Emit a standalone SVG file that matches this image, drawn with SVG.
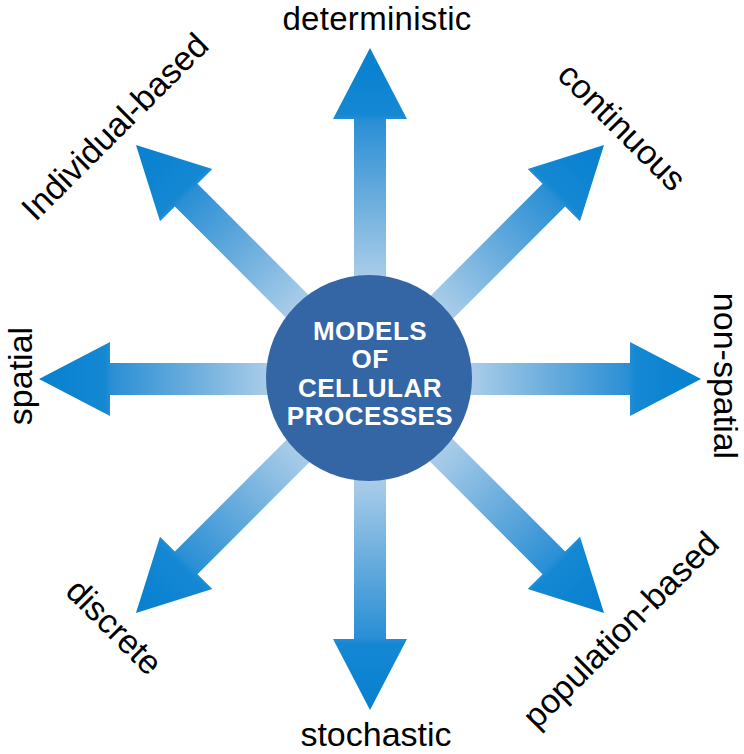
<svg xmlns="http://www.w3.org/2000/svg" xmlns:xlink="http://www.w3.org/1999/xlink" width="744" height="754" viewBox="0 0 744 754">
<style>
.lbl{font-family:"Liberation Sans",Arial,sans-serif;font-size:34px;fill:#000;text-anchor:middle}
.ctr{font-family:"Liberation Sans",Arial,sans-serif;font-size:26px;font-weight:bold;fill:#fff;text-anchor:middle;letter-spacing:0.5px}
</style>
<defs>
<linearGradient id="g" gradientUnits="userSpaceOnUse" x1="0" y1="0" x2="0" y2="-331">
<stop offset="0" stop-color="#c8dff0"/>
<stop offset="0.32" stop-color="#a6cbe8"/>
<stop offset="0.55" stop-color="#68acdd"/>
<stop offset="0.78" stop-color="#2a8fd5"/>
<stop offset="0.8" stop-color="#1588d3"/>
<stop offset="1" stop-color="#0680cf"/>
</linearGradient>
<path id="arr" d="M-16,0 L-16,-260 L-37,-260 L0,-331 L37,-260 L16,-260 L16,0 Z" fill="url(#g)"/>
</defs>
<g id="connectors" transform="translate(370,379)">
<use xlink:href="#arr" href="#arr" transform="rotate(0)"/>
<use xlink:href="#arr" href="#arr" transform="rotate(45)"/>
<use xlink:href="#arr" href="#arr" transform="rotate(90)"/>
<use xlink:href="#arr" href="#arr" transform="rotate(135)"/>
<use xlink:href="#arr" href="#arr" transform="rotate(180)"/>
<use xlink:href="#arr" href="#arr" transform="rotate(225)"/>
<use xlink:href="#arr" href="#arr" transform="rotate(270)"/>
<use xlink:href="#arr" href="#arr" transform="rotate(315)"/>
</g>
<g id="center">
<circle cx="369" cy="378" r="103" fill="#3465a4"/>
<text class="ctr" x="370" y="340">MODELS</text>
<text class="ctr" x="370" y="368">OF</text>
<text class="ctr" x="370" y="397">CELLULAR</text>
<text class="ctr" x="370" y="425">PROCESSES</text>
</g>
<g id="deterministic"><text class="lbl" x="377" y="30" style="font-size:33px;letter-spacing:0.3px">deterministic</text></g>
<g id="stochastic"><text class="lbl" x="376" y="746">stochastic</text></g>
<g id="spatial"><text class="lbl" transform="translate(32,376) rotate(-90)">spatial</text></g>
<g id="non-spatial"><text class="lbl" transform="translate(714,376) rotate(90)">non-spatial</text></g>
<g id="individual-based"><text class="lbl" transform="translate(123,135) rotate(-45)">Individual-based</text></g>
<g id="continuous"><text class="lbl" transform="translate(614,135) rotate(45)">continuous</text></g>
<g id="discrete"><text class="lbl" transform="translate(106,635) rotate(45)">discrete</text></g>
<g id="population-based"><text class="lbl" transform="translate(629,638) rotate(-45)">population-based</text></g>
</svg>
